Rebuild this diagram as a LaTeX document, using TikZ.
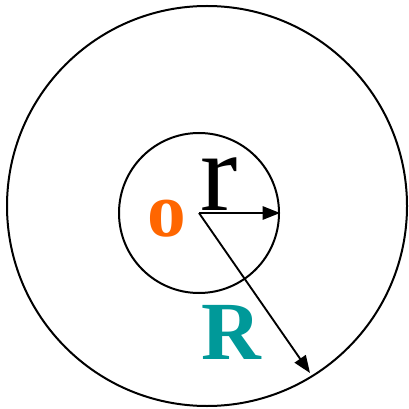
\documentclass[tikz,border=0pt]{standalone}
\usepackage{fontspec}
\setmainfont{Liberation Serif}
\usetikzlibrary{arrows.meta,positioning}

\definecolor{labelorange}{RGB}{255,102,0}
\definecolor{labelteal}{RGB}{0,153,153}

\begin{document}
\begin{tikzpicture}[
  x=0.75pt, y=-0.75pt,
  ring/.style={draw, circle, line width=1.5pt, inner sep=0pt},
  arr/.style={-{Triangle[length=13pt, width=10pt]}, line width=1.4pt},
  lbl/.style={inner sep=0pt, anchor=base},
]
\useasboundingbox (0,0) rectangle (408,409);

%% ---------- circles ----------
\node[ring, minimum size=300pt] (outer) at (207,206) {};
\node[ring, minimum size=120pt] (inner) at (199,213) {};
\coordinate (o) at (199,213);
\coordinate (Rend) at (310,373);

%% ---------- radii ----------
\draw[arr] (o) -- (inner.east);
\draw[arr] (o) -- (Rend);

%% ---------- labels ----------
\node[lbl, font=\fontsize{84}{84}\selectfont] (rlab) at (219,210) {r};
\node[lbl, text=labelorange, font=\fontsize{58}{58}\selectfont\bfseries] (olab) at (167,236) {o};
\node[lbl, text=labelteal, font=\fontsize{62}{62}\selectfont\bfseries] (Rlab) at (231,359) {R};

\end{tikzpicture}
\end{document}
